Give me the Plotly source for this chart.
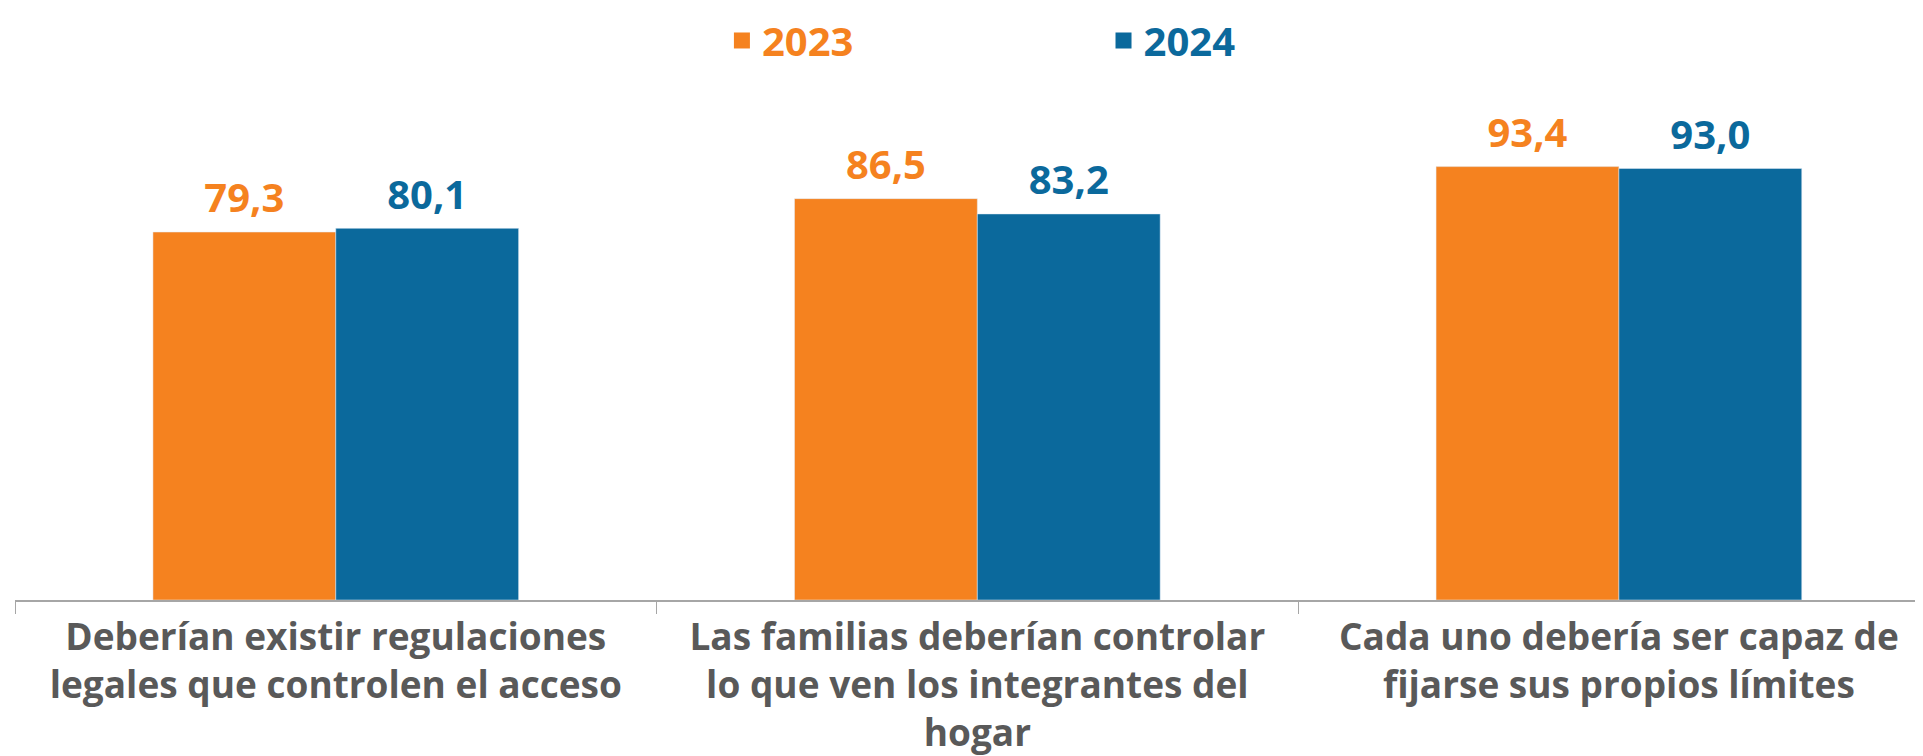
import plotly.graph_objects as go

# Data
categories = [
    "Deberían existir regulaciones<br>legales que controlen el acceso",
    "Las familias deberían controlar<br>lo que ven los integrantes del<br>hogar",
    "Cada uno debería ser capaz de<br>fijarse sus propios límites",
]
years = ["2023", "2024"]
values_2023 = [79.3, 86.5, 93.4]
values_2024 = [80.1, 83.2, 93.0]

orange = "#F5821F"
blue = "#0B699C"
colors = [orange, blue]
series = [values_2023, values_2024]
legends = ["legend", "legend2"]

fig = go.Figure()

for name, vals, col, lg in zip(years, series, colors, legends):
    fig.add_trace(go.Bar(
        x=categories, y=vals, name=name, marker_color=col,
        offsetgroup=name, showlegend=False,
    ))
    # value labels, grouped like the bars, lifted by an invisible marker
    fig.add_trace(go.Scatter(
        x=categories, y=vals, mode="markers+text", offsetgroup=name,
        marker=dict(size=14, opacity=0), showlegend=False, hoverinfo="skip",
        texttemplate="%{y:.1f}", textposition="top center", cliponaxis=False,
        textfont=dict(family="Open Sans", size=40, color=col, weight=700),
    ))
    # legend entry with a square marker
    fig.add_trace(go.Scatter(
        x=[None], y=[None], mode="markers", name=name, legend=lg,
        marker=dict(symbol="square", size=16, color=col),
    ))

# page body has an 8px margin, so the figure is 8px smaller each way
fig.update_layout(
    width=1915, height=748,
    margin=dict(l=7, r=0, t=128, b=156, autoexpand=False),
    plot_bgcolor="white", paper_bgcolor="white",
    barmode="group", bargap=0.43, bargroupgap=0,
    scattermode="group", scattergap=0.43,
    separators=",.",
    font=dict(family="Open Sans"),
    legend=dict(x=0.3705, y=1.2759, xanchor="left", yanchor="top",
                font=dict(size=40, color=orange, weight=700)),
    legend2=dict(x=0.5705, y=1.2759, xanchor="left", yanchor="top",
                 font=dict(size=40, color=blue, weight=700)),
    xaxis=dict(
        range=[-0.5, 2.474], showline=True, linecolor="#A6A6A6", linewidth=1.5,
        ticks="outside", tickson="boundaries", ticklen=12, tickcolor="#A6A6A6",
        automargin=False, ticklabelstandoff=4,
        tickfont=dict(family="Open Sans", size=37, color="#595959", weight=700),
    ),
    yaxis=dict(range=[0, 100], visible=False, automargin=False),
)

fig.write_html("out.html")
